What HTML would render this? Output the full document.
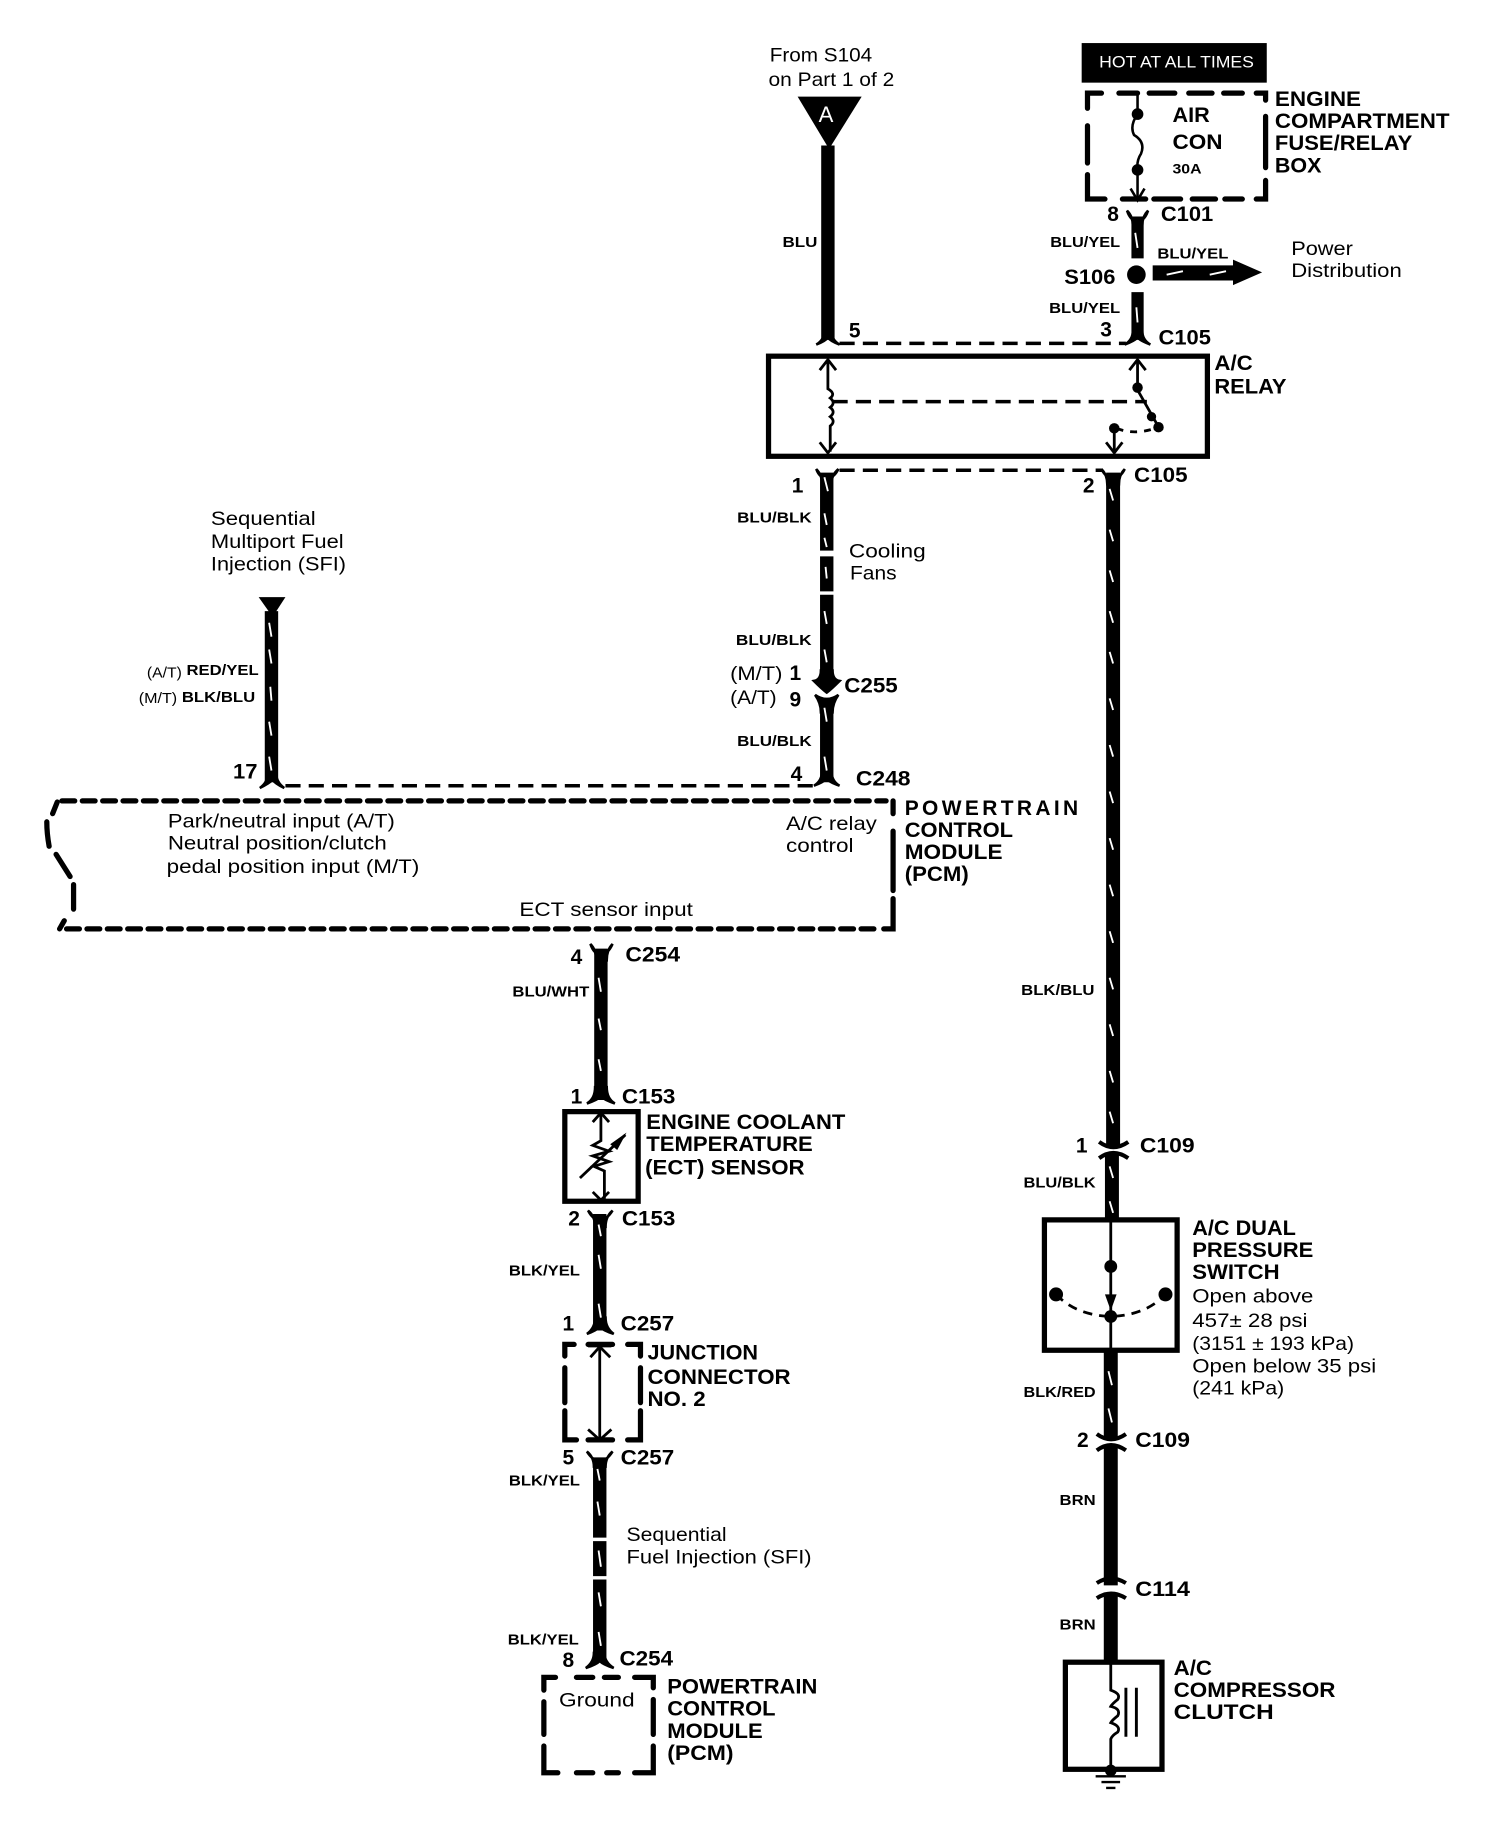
<!DOCTYPE html>
<html><head><meta charset="utf-8"><style>
html,body{margin:0;padding:0;background:#fff}
svg{display:block}
text{font-family:"Liberation Sans",sans-serif;fill:#000}
.r{font-size:17px}
.b{font-size:18px;font-weight:bold}
.w{font-size:13px;font-weight:bold}
</style></head><body>
<svg xmlns="http://www.w3.org/2000/svg" width="1504" height="1824" viewBox="0.8 0 1292 1567" preserveAspectRatio="none">
<rect width="1300" height="1567" fill="#fff"/>
<!-- wires -->
<g fill="none" stroke="#000" stroke-width="11.5">
<path d="M712 125V292"/>
<path stroke-width="10.5" d="M978 186V222M978 251V292"/>
<path d="M711 406V473M711 478V508M711 511V586M711 604V672"/>
<path d="M234 525V672"/>
<path stroke-width="12" d="M957 406V984M956 991V1048M955 1160V1236M955 1243V1362M955 1368V1428"/>
<path d="M517 815V945M516 1043V1143M516 1252V1321M516 1324V1354M516 1357V1428"/>
</g>
<!-- connector flares -->
<g fill="#000" stroke="#000" stroke-width="2.2">
<path d="M702 296Q709 292 709 284H715Q715 292 722 296Q714 293 712 290Q710 293 702 296Z"/>
<path d="M967 296Q974 292 974 284H982Q982 292 989 296Q981 293 978 290Q975 293 967 296Z"/>
<path d="M224 677Q231 672 231 664H238Q238 672 245 677Q237 673 235 670Q232 673 224 677Z"/>
<path d="M700 675Q707 671 707 662H715Q715 671 722 675Q713 672 711 669Q708 672 700 675Z"/>
<path d="M505 948Q512 944 512 934H522Q522 944 529 948Q520 945 517 942Q514 945 505 948Z"/>
<path d="M505 1146Q512 1141 512 1132H521Q521 1141 528 1146Q519 1143 516 1140Q513 1143 505 1146Z"/>
<path d="M504 1433Q511 1428 511 1420H520Q520 1428 528 1433Q519 1430 516 1427Q513 1430 504 1433Z"/>
<path d="M969 181Q974 186 974 194H982Q982 186 987 181Q984 190 978 190Q972 190 969 181Z"/>
<path d="M702 403Q707 408 707 416H715Q715 408 721 403Q717 411 711 411Q705 411 702 403Z"/>
<path d="M947 403Q952 408 952 416H962Q962 408 967 403Q963 411 957 411Q951 411 947 403Z"/>
<path d="M508 811Q513 816 513 825H522Q522 816 527 811Q523 820 517 820Q511 820 508 811Z"/>
<path d="M506 1040Q512 1045 512 1054H521Q521 1045 527 1040Q522 1048 516 1048Q510 1048 506 1040Z"/>
<path d="M505 1247Q511 1252 511 1260H521Q521 1252 527 1247Q522 1255 516 1255Q510 1255 505 1247Z"/>
<path d="M700 585Q706 584 706 576H716Q716 584 722 585Q715 592 711 595Q707 592 700 585Z"/>
<path d="M701 597Q711 604 721 597Q716 604 716 612H706Q706 604 701 597Z"/>
</g>
<!-- C109, C114 junctions -->
<g fill="none" stroke="#000" stroke-width="3.5">
<path d="M945 981Q957 990 970 981"/>
<path d="M945 995Q957 986 970 995"/>
<path d="M943 1232Q955 1241 968 1232"/>
<path d="M943 1246Q955 1237 968 1246"/>
<path d="M943 1360Q955 1352 968 1360"/>
<path d="M943 1373Q955 1365 968 1373"/>
</g>
<!-- white hash marks -->
<path fill="none" stroke="#fff" stroke-width="1.6" d="M709 410l3 12M709 441l2 10M709 462l2 8M710 487l1 10M709 525l2 11M709 558l2 11M709 608l2 12M709 650l2 12
M232 535l2 12M232 558l2 12M233 590l1 12M232 620l2 12M232 650l2 12
M976 200l2 13M977 264l1 13
M954 420l3 10M954 455l3 10M954 490l3 10M954 525l3 10M954 560l3 10M954 600l3 10M954 640l3 10M954 680l3 10M954 720l3 10M954 760l3 10M954 800l3 10M954 840l3 10M954 880l3 10M954 920l3 10M954 955l3 10M954 1002l3 10M954 1032l3 10M953 1178l3 12M953 1210l3 12
M515 840l2 12M515 875l2 10M515 910l2 10M515 1052l2 10M515 1078l2 12M515 1120l2 12M514 1262l2 10M514 1290l2 12M515 1332l2 14M515 1368l2 12M515 1402l2 12"/>
<!-- top triangle -->
<path d="M686 83H741L713 128Z" fill="#000"/>
<text x="704" y="105" style="font-size:19px;fill:#fff">A</text>
<path d="M223 513H246L235 530Z" fill="#000"/>
<!-- hot at all times -->
<rect x="930" y="37" width="159" height="34" fill="#000"/>
<text x="945" y="58" textLength="133" lengthAdjust="spacingAndGlyphs" style="font-size:14px;fill:#fff">HOT AT ALL TIMES</text>
<!-- dashed boxes -->
<g fill="none" stroke="#000" stroke-width="4.5" stroke-linecap="round">
<path d="M947 80H935V93M935 108V140M935 150V171H950M962 80H978M988 80H1010M1022 80H1042M1052 80H1068M1080 80H1088V86M1088 100V144M1088 155V171H1080M965 171H985M992 171H1015M1025 171H1045M1053 171H1068"/>
<path stroke-dasharray="11 6.5" d="M54 688H762M768 688V700"/>
<path d="M768 714V765M768 772V798H760"/>
<path stroke-dasharray="11 6.5" d="M58 798H755"/>
<path d="M50 689L46 699M41 706Q41 716 43 727M49 734L61 753M64 760V781M52 798L56 791"/>
<path d="M494 1155H486V1165M486 1175V1205M486 1212V1237H496M506 1155H527M540 1155H551V1165M551 1175V1205M551 1212V1237H540M506 1237H527"/>
<path d="M478 1441H468V1452M468 1462V1490M468 1500V1523H480M496 1441H510M520 1441H532M546 1441H562V1450M562 1460V1490M562 1500V1523H546M496 1523H510M522 1523H532"/>
</g>
<!-- dashed thin lines -->
<g fill="none" stroke="#000" stroke-width="3">
<path stroke-dasharray="13 7" d="M722 295H968"/>
<path stroke-dasharray="13 7" d="M722 404H948"/>
<path stroke-dasharray="13 7" d="M246 675H700"/>
<path stroke-dasharray="13 7" d="M716 345H986"/>
</g>
<!-- solid boxes -->
<g fill="none" stroke="#000" stroke-width="4.5">
<rect x="661" y="306" width="377" height="86"/>
<rect x="486" y="955" width="63" height="77"/>
<rect x="898" y="1048" width="114" height="112"/>
<rect x="916" y="1428" width="83" height="92"/>
</g>
<!-- fuse -->
<g fill="none" stroke="#000" stroke-width="2.2">
<path d="M978 80V98Q971 108 975 116Q985 122 981 132Q977 138 978 146V172"/>
<path d="M972 162L978 172L984 162"/>
</g>
<circle cx="978" cy="98" r="5"/><circle cx="978" cy="146" r="5"/>
<circle cx="977" cy="236" r="8"/>
<path d="M991 228H1060V223L1085 234L1060 245V241H991Z"/>
<path stroke="#fff" stroke-width="1.6" d="M1003 236l14 -3M1040 236l14 -3"/>
<!-- relay internals -->
<g fill="none" stroke="#000" stroke-width="2.4">
<path d="M712 310V334Q719 338 714 342Q719 346 714 350Q719 354 714 358Q719 362 714 366V388"/>
<path d="M705 318L712 309L719 318M705 380L712 389L719 380"/>
<path d="M978 310V335L995 365"/>
<path d="M971 318L978 309L985 318"/>
<path d="M958 368V388M951 380L958 389L965 380"/>
<path stroke-dasharray="6 6" d="M960 368Q975 374 993 368"/>
</g>
<circle cx="978" cy="333" r="4.5"/><circle cx="990" cy="358" r="4"/><circle cx="996" cy="367" r="4.5"/><circle cx="958" cy="368" r="4.5"/>
<!-- ECT internals -->
<g fill="none" stroke="#000" stroke-width="2.4">
<path d="M517 957V980L510 984L524 989L510 993L524 998L511 1002L520 1006V1030"/>
<path d="M510 964L517 956L524 964M510 1024L517 1031L524 1024"/>
<path d="M499 1012L538 975"/>
</g>
<path d="M539 973L525 983L531 988Z"/>
<!-- junction internals -->
<g fill="none" stroke="#000" stroke-width="2.4">
<path d="M516 1156V1237"/>
<path d="M506 1156H526" stroke-width="3"/>
<path d="M508 1166L516 1157L525 1166M506 1228L516 1237L526 1228"/>
<path d="M506 1237H526" stroke-width="3"/>
</g>
<!-- dual pressure internals -->
<g fill="none" stroke="#000" stroke-width="2.4">
<path d="M955 1050V1160"/>
<path stroke-dasharray="8 6" d="M908 1112Q925 1130 955 1131Q985 1130 1002 1112"/>
</g>
<path d="M950 1112L955 1126L960 1112Z"/>
<circle cx="955" cy="1088" r="5.5"/><circle cx="955" cy="1131" r="5.5"/><circle cx="908" cy="1112" r="6"/><circle cx="1002" cy="1112" r="6"/>
<!-- compressor -->
<g fill="none" stroke="#000" stroke-width="2.4">
<path d="M955 1430V1452Q964 1455 961 1460Q956 1464 955 1466Q964 1468 961 1474Q956 1478 955 1480Q964 1483 961 1488Q956 1491 955 1494V1520"/>
<path stroke-width="2.5" d="M968 1450V1492M977 1450V1492"/>
<path stroke-width="2" d="M942 1526H968M947 1531H963M951 1536H959"/>
</g>
<circle cx="955" cy="1521" r="5"/>

<!-- TEXT -->
<text class="r" x="662" y="53" textLength="88" lengthAdjust="spacingAndGlyphs">From S104</text>
<text class="r" x="661" y="74" textLength="108" lengthAdjust="spacingAndGlyphs">on Part 1 of 2</text>
<text class="b" x="1096" y="91" textLength="74" lengthAdjust="spacingAndGlyphs">ENGINE</text>
<text class="b" x="1096" y="110" textLength="150" lengthAdjust="spacingAndGlyphs">COMPARTMENT</text>
<text class="b" x="1096" y="129" textLength="118" lengthAdjust="spacingAndGlyphs">FUSE/RELAY</text>
<text class="b" x="1096" y="148" textLength="40" lengthAdjust="spacingAndGlyphs">BOX</text>
<text class="b" x="1008" y="105" textLength="32" lengthAdjust="spacingAndGlyphs">AIR</text>
<text class="b" x="1008" y="128" textLength="43" lengthAdjust="spacingAndGlyphs">CON</text>
<text x="1008" y="149" textLength="25" lengthAdjust="spacingAndGlyphs" style="font-size:12px;font-weight:bold">30A</text>
<text class="b" x="952" y="190">8</text>
<text class="b" x="998" y="190" textLength="45" lengthAdjust="spacingAndGlyphs">C101</text>
<text class="w" x="903" y="212" textLength="60" lengthAdjust="spacingAndGlyphs">BLU/YEL</text>
<text class="w" x="995" y="222" textLength="61" lengthAdjust="spacingAndGlyphs">BLU/YEL</text>
<text class="b" x="915" y="244" textLength="44" lengthAdjust="spacingAndGlyphs">S106</text>
<text class="r" x="1110" y="219" textLength="53" lengthAdjust="spacingAndGlyphs">Power</text>
<text class="r" x="1110" y="238" textLength="95" lengthAdjust="spacingAndGlyphs">Distribution</text>
<text class="w" x="902" y="269" textLength="61" lengthAdjust="spacingAndGlyphs">BLU/YEL</text>
<text class="w" x="673" y="212" textLength="30" lengthAdjust="spacingAndGlyphs">BLU</text>
<text class="b" x="730" y="290">5</text>
<text class="b" x="946" y="289">3</text>
<text class="b" x="996" y="296" textLength="45" lengthAdjust="spacingAndGlyphs">C105</text>
<text class="b" x="1044" y="318" textLength="33" lengthAdjust="spacingAndGlyphs">A/C</text>
<text class="b" x="1044" y="338" textLength="62" lengthAdjust="spacingAndGlyphs">RELAY</text>
<text class="b" x="681" y="423">1</text>
<text class="b" x="931" y="423">2</text>
<text class="b" x="975" y="414" textLength="46" lengthAdjust="spacingAndGlyphs">C105</text>
<text class="w" x="634" y="449" textLength="64" lengthAdjust="spacingAndGlyphs">BLU/BLK</text>
<text class="r" x="730" y="479" textLength="66" lengthAdjust="spacingAndGlyphs">Cooling</text>
<text class="r" x="731" y="498" textLength="40" lengthAdjust="spacingAndGlyphs">Fans</text>
<text class="r" x="182" y="451" textLength="90" lengthAdjust="spacingAndGlyphs">Sequential</text>
<text class="r" x="182" y="471" textLength="114" lengthAdjust="spacingAndGlyphs">Multiport Fuel</text>
<text class="r" x="182" y="490" textLength="116" lengthAdjust="spacingAndGlyphs">Injection (SFI)</text>
<text class="w" x="633" y="554" textLength="65" lengthAdjust="spacingAndGlyphs">BLU/BLK</text>
<text class="r" x="628" y="584" textLength="45" lengthAdjust="spacingAndGlyphs">(M/T)</text>
<text class="b" x="679" y="584">1</text>
<text class="r" x="628" y="605" textLength="40" lengthAdjust="spacingAndGlyphs">(A/T)</text>
<text class="b" x="679" y="607">9</text>
<text class="b" x="726" y="595" textLength="46" lengthAdjust="spacingAndGlyphs">C255</text>
<text class="w" x="634" y="641" textLength="64" lengthAdjust="spacingAndGlyphs">BLU/BLK</text>
<text x="127" y="582" textLength="30" lengthAdjust="spacingAndGlyphs" style="font-size:13px">(A/T)</text>
<text class="w" x="161" y="580" textLength="62" lengthAdjust="spacingAndGlyphs">RED/YEL</text>
<text x="120" y="604" textLength="33" lengthAdjust="spacingAndGlyphs" style="font-size:13px">(M/T)</text>
<text class="w" x="157" y="603" textLength="63" lengthAdjust="spacingAndGlyphs">BLK/BLU</text>
<text class="b" x="201" y="669" textLength="21" lengthAdjust="spacingAndGlyphs">17</text>
<text class="b" x="680" y="671">4</text>
<text class="b" x="736" y="675" textLength="47" lengthAdjust="spacingAndGlyphs">C248</text>
<text class="b" x="778" y="700" textLength="149">POWERTRAIN</text>
<text class="b" x="778" y="719" textLength="93" lengthAdjust="spacingAndGlyphs">CONTROL</text>
<text class="b" x="778" y="738" textLength="84" lengthAdjust="spacingAndGlyphs">MODULE</text>
<text class="b" x="778" y="757" textLength="55" lengthAdjust="spacingAndGlyphs">(PCM)</text>
<text class="r" x="145" y="711" textLength="195" lengthAdjust="spacingAndGlyphs">Park/neutral input (A/T)</text>
<text class="r" x="145" y="730" textLength="188" lengthAdjust="spacingAndGlyphs">Neutral position/clutch</text>
<text class="r" x="144" y="750" textLength="217" lengthAdjust="spacingAndGlyphs">pedal position input (M/T)</text>
<text class="r" x="676" y="713" textLength="78" lengthAdjust="spacingAndGlyphs">A/C relay</text>
<text class="r" x="676" y="732" textLength="58" lengthAdjust="spacingAndGlyphs">control</text>
<text class="r" x="447" y="787" textLength="149" lengthAdjust="spacingAndGlyphs">ECT sensor input</text>
<text class="b" x="491" y="828">4</text>
<text class="b" x="538" y="826" textLength="47" lengthAdjust="spacingAndGlyphs">C254</text>
<text class="w" x="441" y="856" textLength="66" lengthAdjust="spacingAndGlyphs">BLU/WHT</text>
<text class="b" x="491" y="948">1</text>
<text class="b" x="535" y="948" textLength="46" lengthAdjust="spacingAndGlyphs">C153</text>
<text class="b" x="556" y="970" textLength="171" lengthAdjust="spacingAndGlyphs">ENGINE COOLANT</text>
<text class="b" x="556" y="989" textLength="143" lengthAdjust="spacingAndGlyphs">TEMPERATURE</text>
<text class="b" x="555" y="1009" textLength="137" lengthAdjust="spacingAndGlyphs">(ECT) SENSOR</text>
<text class="b" x="489" y="1053">2</text>
<text class="b" x="535" y="1053" textLength="46" lengthAdjust="spacingAndGlyphs">C153</text>
<text class="w" x="438" y="1096" textLength="61" lengthAdjust="spacingAndGlyphs">BLK/YEL</text>
<text class="b" x="484" y="1143">1</text>
<text class="b" x="534" y="1143" textLength="46" lengthAdjust="spacingAndGlyphs">C257</text>
<text class="b" x="557" y="1168" textLength="95" lengthAdjust="spacingAndGlyphs">JUNCTION</text>
<text class="b" x="557" y="1189" textLength="123" lengthAdjust="spacingAndGlyphs">CONNECTOR</text>
<text class="b" x="557" y="1208" textLength="50" lengthAdjust="spacingAndGlyphs">NO. 2</text>
<text class="b" x="484" y="1258">5</text>
<text class="b" x="534" y="1258" textLength="46" lengthAdjust="spacingAndGlyphs">C257</text>
<text class="w" x="438" y="1276" textLength="61" lengthAdjust="spacingAndGlyphs">BLK/YEL</text>
<text class="r" x="539" y="1324" textLength="86" lengthAdjust="spacingAndGlyphs">Sequential</text>
<text class="r" x="539" y="1343" textLength="159" lengthAdjust="spacingAndGlyphs">Fuel Injection (SFI)</text>
<text class="w" x="437" y="1413" textLength="61" lengthAdjust="spacingAndGlyphs">BLK/YEL</text>
<text class="b" x="484" y="1432">8</text>
<text class="b" x="533" y="1431" textLength="46" lengthAdjust="spacingAndGlyphs">C254</text>
<text class="r" x="481" y="1466" textLength="65" lengthAdjust="spacingAndGlyphs">Ground</text>
<text class="b" x="574" y="1455" textLength="129" lengthAdjust="spacingAndGlyphs">POWERTRAIN</text>
<text class="b" x="574" y="1474" textLength="93" lengthAdjust="spacingAndGlyphs">CONTROL</text>
<text class="b" x="574" y="1493" textLength="82" lengthAdjust="spacingAndGlyphs">MODULE</text>
<text class="b" x="574" y="1512" textLength="57" lengthAdjust="spacingAndGlyphs">(PCM)</text>
<text class="w" x="878" y="855" textLength="63" lengthAdjust="spacingAndGlyphs">BLK/BLU</text>
<text class="b" x="925" y="990">1</text>
<text class="b" x="980" y="990" textLength="47" lengthAdjust="spacingAndGlyphs">C109</text>
<text class="w" x="880" y="1020" textLength="62" lengthAdjust="spacingAndGlyphs">BLU/BLK</text>
<text class="b" x="1025" y="1061" textLength="89" lengthAdjust="spacingAndGlyphs">A/C DUAL</text>
<text class="b" x="1025" y="1080" textLength="104" lengthAdjust="spacingAndGlyphs">PRESSURE</text>
<text class="b" x="1025" y="1099" textLength="75" lengthAdjust="spacingAndGlyphs">SWITCH</text>
<text class="r" x="1025" y="1119" textLength="104" lengthAdjust="spacingAndGlyphs">Open above</text>
<text class="r" x="1025" y="1140" textLength="99" lengthAdjust="spacingAndGlyphs">457± 28 psi</text>
<text class="r" x="1025" y="1160" textLength="139" lengthAdjust="spacingAndGlyphs">(3151 ± 193 kPa)</text>
<text class="r" x="1025" y="1179" textLength="158" lengthAdjust="spacingAndGlyphs">Open below 35 psi</text>
<text class="r" x="1025" y="1198" textLength="79" lengthAdjust="spacingAndGlyphs">(241 kPa)</text>
<text class="w" x="880" y="1200" textLength="62" lengthAdjust="spacingAndGlyphs">BLK/RED</text>
<text class="b" x="926" y="1243">2</text>
<text class="b" x="976" y="1243" textLength="47" lengthAdjust="spacingAndGlyphs">C109</text>
<text class="w" x="911" y="1293" textLength="31" lengthAdjust="spacingAndGlyphs">BRN</text>
<text class="b" x="976" y="1371" textLength="47" lengthAdjust="spacingAndGlyphs">C114</text>
<text class="w" x="911" y="1400" textLength="31" lengthAdjust="spacingAndGlyphs">BRN</text>
<text class="b" x="1009" y="1439" textLength="33" lengthAdjust="spacingAndGlyphs">A/C</text>
<text class="b" x="1009" y="1458" textLength="139" lengthAdjust="spacingAndGlyphs">COMPRESSOR</text>
<text class="b" x="1009" y="1477" textLength="86" lengthAdjust="spacingAndGlyphs">CLUTCH</text>
</svg>
</body></html>
